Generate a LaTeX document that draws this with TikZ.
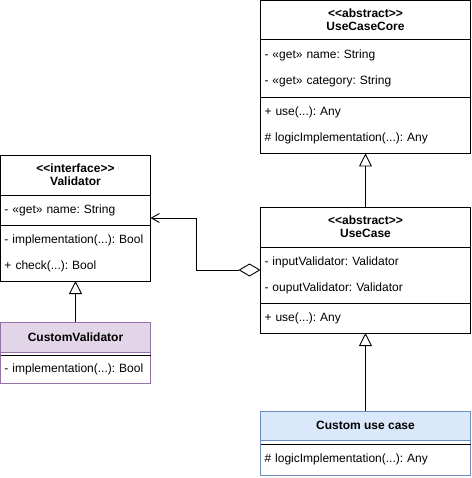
\documentclass[tikz,border=0pt]{standalone}
\usepackage{fontspec}
\newfontfamily\umlfont{Liberation Sans}
\usetikzlibrary{arrows.meta}
\usetikzlibrary{positioning}
\usetikzlibrary{fit}

\definecolor{bluefill}{HTML}{DAE8FC}
\definecolor{blueline}{HTML}{6C8EBF}
\definecolor{purplefill}{HTML}{E1D5E7}
\definecolor{purpleline}{HTML}{9673A6}

\tikzset{
  classhead/.style={draw, line width=0.9pt, fill=white, inner sep=0pt, outer sep=0pt, align=center, font=\umlfont\bfseries\fontsize{12}{13}\selectfont},
  classpart/.style={draw, line width=0.9pt, fill=white, inner xsep=4pt, inner ysep=0pt, outer sep=0pt, align=left, font=\umlfont\fontsize{12}{26}\selectfont},
  classbox/.style={inner sep=0pt, outer sep=0pt},
  extends/.style={-{Triangle[open, length=13pt, width=13pt]}, line width=0.9pt},
  uses/.style={{Diamond[open, length=22pt, width=13pt]}-{Straight Barb[length=8pt, width=9pt]}, line width=0.9pt}
}

\begin{document}
\frenchspacing
\begin{tikzpicture}[x=1pt, y=-1pt]
    \useasboundingbox (0,0) rectangle (471,478);

    \node [classhead, minimum width=210pt, minimum height=39pt, anchor=north west] (coreHead) at (260.5,0.5) {<<abstract>>\\UseCaseCore};
    \node [classpart, text width=202pt, minimum height=58pt, below=0pt of coreHead] (coreAttr) {- «get» name: String\\- «get» category: String};
    \node [classpart, text width=202pt, minimum height=56pt, below=0pt of coreAttr] (coreOps) {+ use(...): Any\\\# logicImplementation(...): Any};

    \node [classhead, minimum width=150pt, minimum height=40pt, anchor=north west] (valHead) at (0.5,155) {<<interface>>\\Validator};
    \node [classpart, text width=142pt, minimum height=30pt, below=0pt of valHead] (valAttr) {- «get» name: String};
    \node [classpart, text width=142pt, minimum height=56pt, below=0pt of valAttr] (valOps) {- implementation(...): Bool\\+ check(...): Bool};

    \node [classhead, minimum width=210pt, minimum height=40pt, anchor=north west] (ucHead) at (260.5,207) {<<abstract>>\\UseCase};
    \node [classpart, text width=202pt, minimum height=56pt, below=0pt of ucHead] (ucAttr) {- inputValidator: Validator\\- ouputValidator: Validator};
    \node [classpart, text width=202pt, minimum height=30pt, below=0pt of ucAttr] (ucOps) {+ use(...): Any};

    \node [classhead, fill=bluefill, draw=blueline, minimum width=210pt, minimum height=29pt, anchor=north west] (cucHead) at (260.5,411) {Custom use case};
    \node [classpart, draw=blueline, text width=202pt, minimum height=4pt, below=0pt of cucHead] (cucAttr) {};
    \node [classpart, draw=blueline, text width=202pt, minimum height=31pt, below=0pt of cucAttr] (cucOps) {\# logicImplementation(...): Any};
    \draw [line width=0.9pt] (cucAttr.south west) -- (cucAttr.south east);

    \node [classhead, fill=purplefill, draw=purpleline, minimum width=150pt, minimum height=30pt, anchor=north west] (cvHead) at (0.5,322) {CustomValidator};
    \node [classpart, draw=purpleline, text width=142pt, minimum height=3pt, below=0pt of cvHead] (cvAttr) {};
    \node [classpart, draw=purpleline, text width=142pt, minimum height=28pt, below=0pt of cvAttr] (cvOps) {- implementation(...): Bool};
    \draw [line width=0.9pt] (cvAttr.south west) -- (cvAttr.south east);

    \node [classbox, fit=(coreHead)(coreOps)] (core) {};
    \node [classbox, fit=(valHead)(valOps)] (val) {};
    \node [classbox, fit=(ucHead)(ucOps)] (uc) {};
    \node [classbox, fit=(cucHead)(cucOps)] (cuc) {};
    \node [classbox, fit=(cvHead)(cvOps)] (cv) {};

    \draw [extends] (uc.north) -- (core.south);
    \draw [extends] (cuc.north) -- (uc.south);
    \draw [extends] (cv.north) -- (val.south);
    \draw [uses] (uc.west) -- ++(-64,0) |- (val.east);
\end{tikzpicture}
\end{document}
